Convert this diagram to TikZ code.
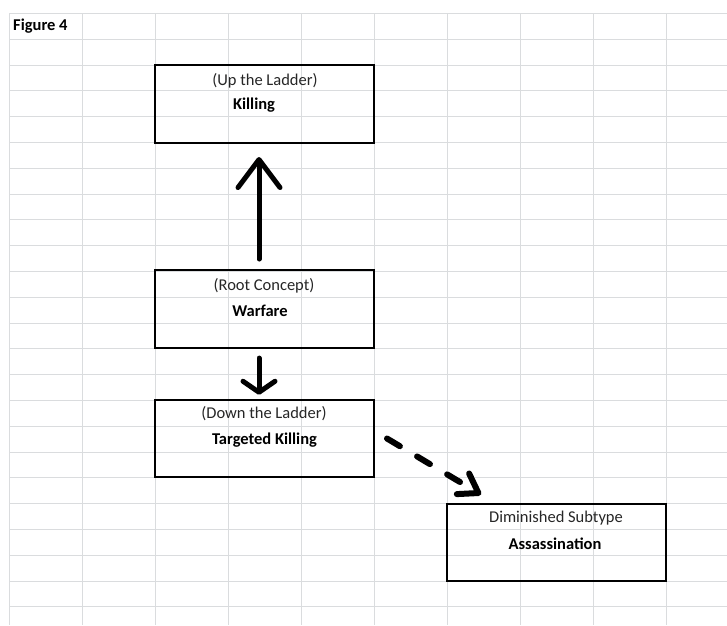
\documentclass[tikz,border=0pt]{standalone}
\usepackage{fontspec}
\setmainfont{Carlito}
\usetikzlibrary{arrows.meta,calc}
\definecolor{gridgray}{RGB}{218,220,222}
\definecolor{textgray}{RGB}{38,38,38}
\begin{document}
\begin{tikzpicture}[x=1pt,y=-1pt,
  gridline/.style={draw=gridgray,line width=1pt},
  box/.style={draw=black,line width=2pt,minimum width=219pt,minimum height=77.5pt,inner sep=0pt},
  lbl/.style={font=\fontsize{16.5}{19}\selectfont,text=textgray,inner sep=0pt},
  blbl/.style={font=\fontsize{16.5}{19}\selectfont\bfseries,text=black,inner sep=0pt},
  conn/.style={line width=5pt,line cap=round,line join=round}]
\useasboundingbox (0,0) rectangle (727,625);
\fill[white] (0,0) rectangle (727,625);
% spreadsheet grid
\foreach \k in {0,...,23} \draw[gridline] (9,{13.5+25.8*\k}) -- (727,{13.5+25.8*\k});
\foreach \k in {0,...,9} \draw[gridline] ({9+73*\k},13.5) -- ({9+73*\k},625);
% title
\node[blbl,anchor=west] (fig) at (13,26.4) {Figure 4};
% boxes
\node[box] (killing) at (264.5,103.75) {};
\node[box] (warfare) at (264.5,308.8) {};
\node[box] (targeted) at (264.5,438.5) {};
\node[box] (assassin) at (556.5,542.3) {};
% texts
\node[lbl] (upl) at (265,80.7) {(Up the Ladder)};
\node[blbl] (killt) at (254,105) {Killing};
\node[lbl] (rootl) at (264,286) {(Root Concept)};
\node[blbl] (warft) at (260,310.7) {Warfare};
\node[lbl] (downl) at (264,414) {(Down the Ladder)};
\node[blbl] (targt) at (264.5,440) {Targeted Killing};
\node[lbl] (diml) at (556,518) {Diminished Subtype};
\node[blbl] (asst) at (555,544) {Assassination};
% connectors
\draw[conn,-{Straight Barb[length=28pt,width=42pt,round]}]
  ($(warfare.north)+(-5.5,-10)$) -- ($(killing.south)+(-5.5,13.5)$);
\draw[conn,-{Straight Barb[length=11pt,width=32pt,round]}]
  ($(warfare.south)+(-5.5,9.5)$) -- ($(targeted.north)+(-5.5,-4)$);
\draw[conn,line width=6pt,dash pattern=on 15pt off 20pt,-{Straight Barb[length=18pt,width=24pt,round]}]
  ($(targeted.east)+(12,0)$) -- ($(assassin.north west)+(35,-8)$);
\end{tikzpicture}
\end{document}
